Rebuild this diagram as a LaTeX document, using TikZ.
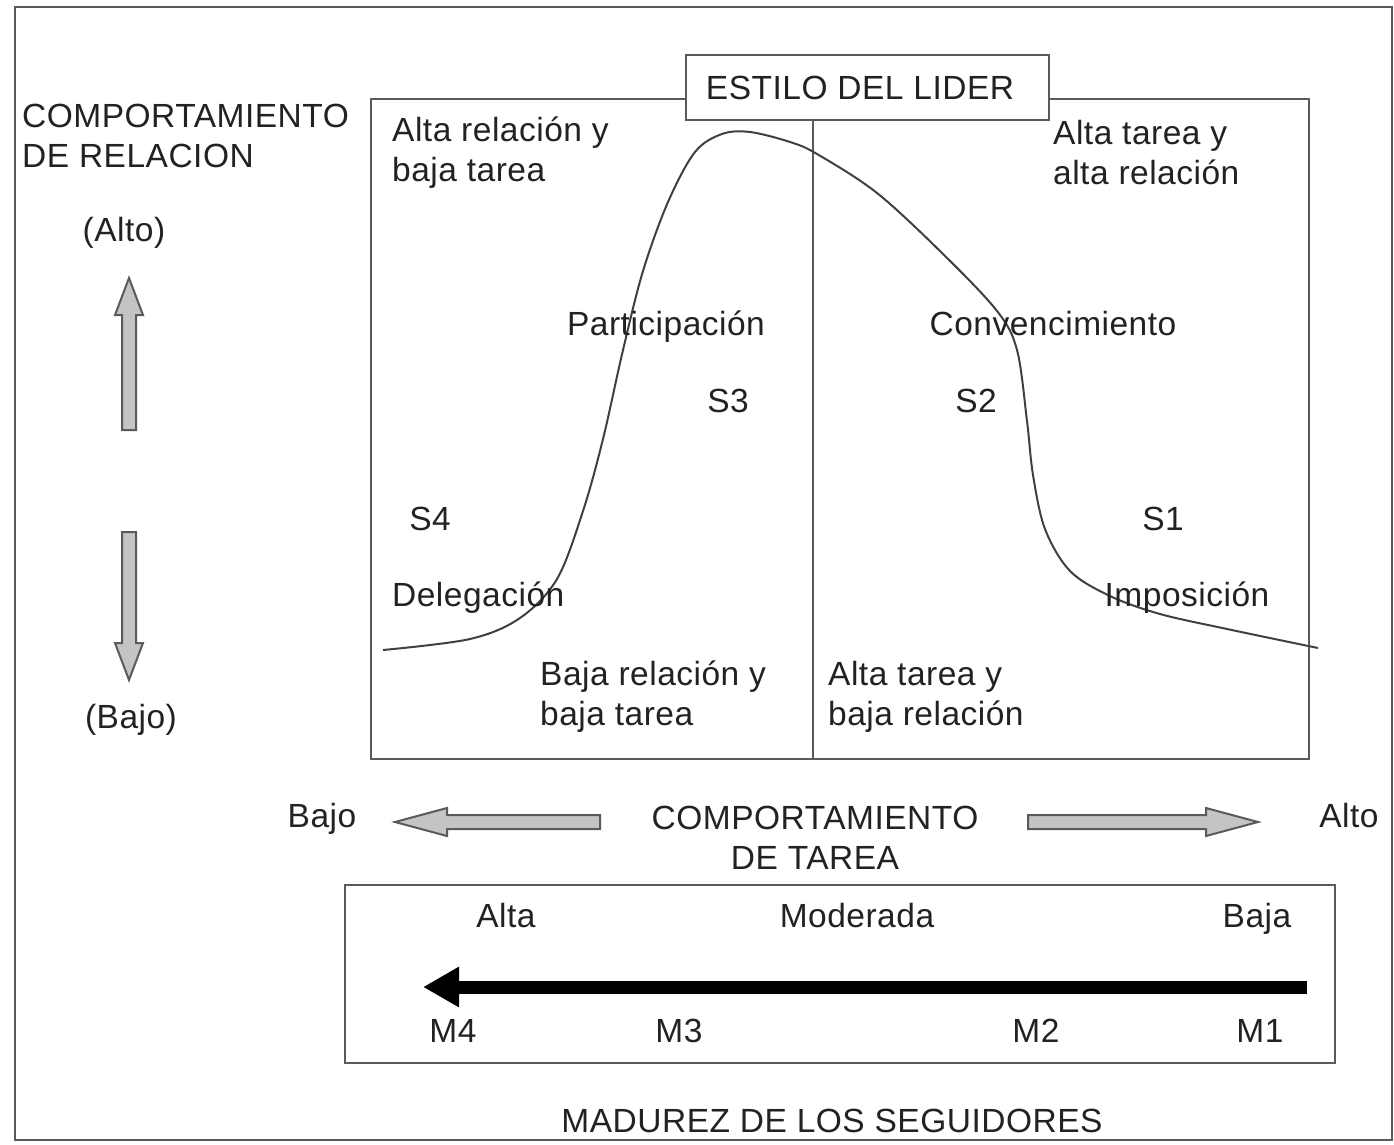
\documentclass[tikz,border=0pt]{standalone}
\usepackage{fontspec}
\setmainfont{Liberation Sans}[LetterSpace=1.5]
\usetikzlibrary{arrows.meta}
\definecolor{linegray}{HTML}{5A5A5A}
\definecolor{txt}{HTML}{222222}
\definecolor{arrowfill}{HTML}{C4C4C4}
\begin{document}
\begin{tikzpicture}[x=1pt,y=-1pt,
  frame/.style={draw=linegray,line width=2.6pt},
  lbl/.style={text=txt,inner sep=0pt,font=\fontsize{33.5}{40}\selectfont},
  lbll/.style={lbl,align=left,anchor=west},
  lblc/.style={lbl,text height=24pt,text depth=0pt},
  lblm/.style={lbl,align=center},
  blockarrow/.style={draw=linegray,fill=arrowfill,line width=2pt,line join=miter},
  curve/.style={draw=black!75,line width=2pt}]
\useasboundingbox (0,0) rectangle (1394,1145);
% outer frame
\draw[frame,draw=gray!70!black] (15,7) rectangle (1392,1140);
% main box
\draw[frame] (371,99) rectangle (1309,759);
% leader style box
\node[frame,fill=white,minimum width=363pt,minimum height=65pt,inner sep=0pt] (estilo) at (867.5,87.5) {};
\node[lblc] (estilotxt) at (860,88) {ESTILO DEL LIDER};
\draw[frame] (estilo.south -| 813,0) coordinate (divtop) -- (813,759) coordinate (divbot);
% curve
\draw[curve] plot[smooth,tension=0.55] coordinates {
 (383,650) (470,639) (520,618) (557,579) (583,511) (603,439) (623,350)
 (643,271) (668,202) (695,152) (722,134) (750,132) (790,142) (817,154)
 (877,193) (943,254) (997,311) (1017,350) (1027,421) (1033,475)
 (1045,529) (1070,571) (1110,596) (1160,614) (1227,629) (1318,648)};
% quadrant labels
\node[lbll] (q3) at (392,153) {Alta relación y\\baja tarea};
\node[lbll] (q2) at (1053,153) {Alta tarea y\\ alta relación};
\node[lbll] (q4) at (540,697) {Baja relación y\\baja tarea};
\node[lbll] (q1) at (828,697) {Alta tarea y\\ baja relación};
\node[lblc] (part) at (666,323) {Participación};
\node[lblc] (conv) at (1053,323) {Convencimiento};
\node[lblc] (s3) at (728,400) {S3};
\node[lblc] (s2) at (976,400) {S2};
\node[lblc] (s4) at (430,518) {S4};
\node[lblc] (s1) at (1163,518) {S1};
\node[lblc,anchor=west] (deleg) at (392,594) {Delegación};
\node[lblc] (impo) at (1187,594) {Imposición};
% left axis
\node[lbll] (relacion) at (22,136) {COMPORTAMIENTO\\DE RELACION};
\node[lblc] (alto1) at (124,229) {(Alto)};
\node[lblc] (bajo1) at (131,716) {(Bajo)};
\coordinate (upbase) at (129,430);
\coordinate (uptip) at (129,278);
\draw[blockarrow] ([xshift=-7pt]upbase) -- ([xshift=-7pt,yshift=-37pt]uptip) -- ([xshift=-14pt,yshift=-37pt]uptip) -- (uptip)
  -- ([xshift=14pt,yshift=-37pt]uptip) -- ([xshift=7pt,yshift=-37pt]uptip) -- ([xshift=7pt]upbase) -- cycle;
\coordinate (dnbase) at (129,532);
\coordinate (dntip) at (129,680);
\draw[blockarrow] ([xshift=-7pt]dnbase) -- ([xshift=-7pt,yshift=37pt]dntip) -- ([xshift=-14pt,yshift=37pt]dntip) -- (dntip)
  -- ([xshift=14pt,yshift=37pt]dntip) -- ([xshift=7pt,yshift=37pt]dntip) -- ([xshift=7pt]dnbase) -- cycle;
% task axis
\node[lblc] (bajo2) at (322,815) {Bajo};
\node[lblc] (alto2) at (1349,815) {Alto};
\node[lblm] (tarea) at (815,838) {COMPORTAMIENTO\\DE TAREA};
\coordinate (lbase) at (600,822);
\coordinate (ltip) at (395,822);
\draw[blockarrow] ([yshift=-7pt]lbase) -- ([xshift=52pt,yshift=-7pt]ltip) -- ([xshift=52pt,yshift=-14pt]ltip) -- (ltip)
  -- ([xshift=52pt,yshift=14pt]ltip) -- ([xshift=52pt,yshift=7pt]ltip) -- ([yshift=7pt]lbase) -- cycle;
\coordinate (rbase) at (1028,822);
\coordinate (rtip) at (1258,822);
\draw[blockarrow] ([yshift=-7pt]rbase) -- ([xshift=-52pt,yshift=-7pt]rtip) -- ([xshift=-52pt,yshift=-14pt]rtip) -- (rtip)
  -- ([xshift=-52pt,yshift=14pt]rtip) -- ([xshift=-52pt,yshift=7pt]rtip) -- ([yshift=7pt]rbase) -- cycle;
% maturity box
\draw[frame] (345,885) rectangle (1335,1063);
\node[lblc] (alta) at (506,915) {Alta};
\node[lblc] (moder) at (857,915) {Moderada};
\node[lblc] (baja) at (1257,915) {Baja};
\coordinate (mstart) at (1307,987);
\coordinate (mend) at (423,987);
\draw[line width=13pt,black,-{Triangle[length=36pt,width=38pt]}] (mstart) -- (mend);
\node[lblc] (m4) at (453,1030) {M4};
\node[lblc] (m3) at (679,1030) {M3};
\node[lblc] (m2) at (1036,1030) {M2};
\node[lblc] (m1) at (1260,1030) {M1};
\node[lblc] (madurez) at (832,1120) {MADUREZ DE LOS SEGUIDORES};
\end{tikzpicture}
\end{document}
